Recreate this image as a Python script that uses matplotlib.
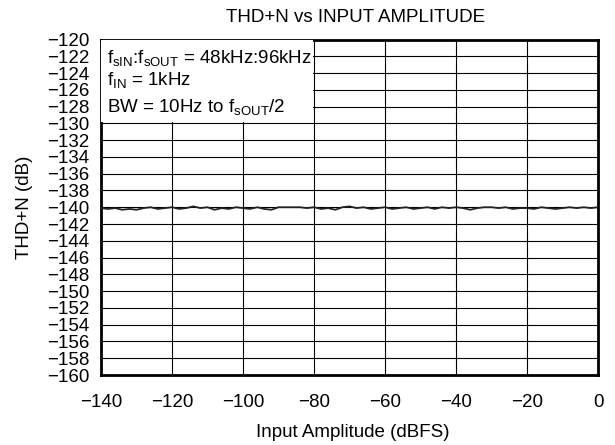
import matplotlib
matplotlib.use("Agg")
import matplotlib.pyplot as plt
from matplotlib.patches import Rectangle

plt.rcParams['font.family'] = ['Liberation Sans', 'DejaVu Sans']
plt.rcParams['mathtext.fontset'] = 'custom'
plt.rcParams['mathtext.rm'] = 'Liberation Sans'
plt.rcParams['mathtext.it'] = 'Liberation Sans'
plt.rcParams['mathtext.default'] = 'regular'

x_values = list(range(-140, 1, 2))
thdn_values = [
    -140.1, -140.2, -140.1, -140.3, -140.2, -140.3, -140.1, -140.0, -140.2, -140.1,
    -140.0, -140.2, -140.1, -139.9, -140.1, -140.0, -140.3, -140.1, -140.2, -140.0,
    -140.1, -140.2, -140.0, -140.2, -140.3, -140.0, -140.0, -140.0, -140.0, -140.1,
    -140.0, -140.2, -140.1, -140.3, -140.0, -139.9, -140.1, -140.0, -140.2, -140.1,
    -140.0, -140.2, -140.1, -140.0, -140.2, -140.1, -140.0, -140.2, -140.0, -140.1,
    -140.0, -140.1, -140.3, -140.1, -140.0, -140.0, -140.1, -140.0, -140.2, -140.1,
    -140.1, -140.2, -140.0, -140.1, -140.2, -140.1, -140.0, -140.1, -140.0, -140.1,
    -140.0,
]
x_ticks = list(range(-140, 1, 20))
y_ticks = list(range(-160, -119, 2))

title = "THD+N vs INPUT AMPLITUDE"
xlabel = "Input Amplitude (dBFS)"
ylabel = "THD+N (dB)"
annot_lines = [
    r"f$_{\mathrm{sIN}}$:f$_{\mathrm{sOUT}}$ = 48kHz:96kHz",
    r"f$_{\mathrm{IN}}$ = 1kHz",
    r"BW = 10Hz to f$_{\mathrm{sOUT}}$/2",
]

W, H = 615, 445
L, R, T, B = 101, 598, 39.5, 375
fig = plt.figure(figsize=(W/100, H/100), dpi=100)
ax = fig.add_axes([L/W, 1 - B/H, (R-L)/W, (B-T)/H])

ax.set_xlim(-140, 0)
ax.set_ylim(-160, -120)
ax.set_xticks(x_ticks)
ax.set_yticks(y_ticks)
ax.set_xticklabels([("\u2212%d" % -v) if v < 0 else "%d" % v for v in x_ticks])
ax.set_yticklabels([("\u2212%d" % -v) for v in y_ticks])
ax.tick_params(axis='both', length=0, labelsize=13.5, colors='black')
ax.tick_params(axis='y', pad=8.5)
ax.tick_params(axis='x', pad=14)
ax.grid(True, color='black', linewidth=0.8)
ax.set_axisbelow(True)
for s in ax.spines.values():
    s.set_linewidth(2.0)
    s.set_color('black')

ax.plot(x_values, thdn_values, color='#222222', linewidth=1.3, zorder=3)

ax.add_patch(Rectangle((0, 0.755), 0.4266, 0.245, transform=ax.transAxes,
                       facecolor='white', edgecolor='none', zorder=4))
ys = [0.930, 0.864, 0.784]
for t, yy in zip(annot_lines, ys):
    ax.text(0.012, yy, t, transform=ax.transAxes, fontsize=13.5, va='baseline',
            ha='left', zorder=5)

fig.text(356/W, 1 - 17/H, title, fontsize=13.5, ha='center', va='center')
ax.set_xlabel(xlabel, fontsize=13.5)
ax.xaxis.set_label_coords(0.506, -0.146)
ax.set_ylabel(ylabel, fontsize=13.5)
ax.yaxis.set_label_coords(-0.137, 0.5)

fig.savefig("out.png", dpi=100)
